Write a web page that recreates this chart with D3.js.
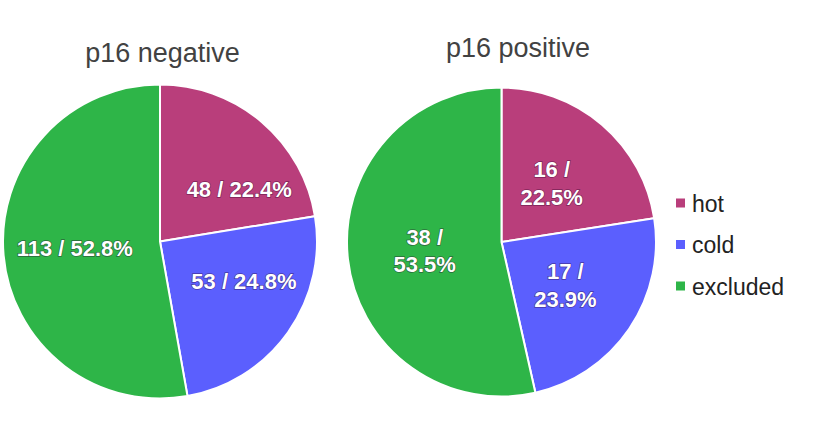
<!DOCTYPE html>
<html>
<head>
<meta charset="utf-8">
<script src="https://cdn.jsdelivr.net/npm/d3@7"></script>
<style>
  body { margin: 0; background: #fff; }
  text { font-family: "Liberation Sans", Arial, sans-serif; }
</style>
</head>
<body>
<div id="chart"></div>
<script>
// Donnees
const categories = ["hot", "cold", "excluded"];
const colors = ["#b93e7b", "#5b5ffe", "#2eb548"];
const negativeValues = [48, 53, 113];
const negativePct = ["22.4%", "24.8%", "52.8%"];
const positiveValues = [16, 17, 38];
const positivePct = ["22.5%", "23.9%", "53.5%"];
const titles = ["p16 negative", "p16 positive"];

const width = 829, height = 436;

const svg = d3.select("#chart")
    .append("svg")
    .attr("width", width)
    .attr("height", height);

svg.append("rect").attr("width", width).attr("height", height).attr("fill", "#fff");

const color = d3.scaleOrdinal().domain(categories).range(colors);

const pie = d3.pie().sort(null).value(d => d.value);

// un camembert par groupe
const charts = [
    {title: titles[0], values: negativeValues, pct: negativePct, cx: 160, cy: 241.5, r: 157, tx: 162.5, ty: 62, twoLines: false},
    {title: titles[1], values: positiveValues, pct: positivePct, cx: 501.5, cy: 242, r: 154.5, tx: 518, ty: 57, twoLines: true}
];

charts.forEach(function(c) {
    const data = categories.map((k, i) => ({key: k, value: c.values[i], pct: c.pct[i]}));
    const arcs = pie(data);
    const arc = d3.arc().innerRadius(0).outerRadius(c.r);
    const labelArc = d3.arc().innerRadius(0).outerRadius(c.r); // centroid = r/2

    svg.append("text")
        .attr("x", c.tx)
        .attr("y", c.ty)
        .attr("text-anchor", "middle")
        .attr("font-size", 27)
        .attr("fill", "#424242")
        .text(c.title);

    const g = svg.append("g").attr("transform", `translate(${c.cx},${c.cy})`);

    g.selectAll("path")
        .data(arcs)
        .join("path")
        .attr("d", arc)
        .attr("fill", d => color(d.data.key))
        .attr("stroke", "#fff")
        .attr("stroke-width", 2)
        .attr("stroke-linejoin", "round");

    const labels = g.selectAll("text.lbl")
        .data(arcs)
        .join("text")
        .attr("class", "lbl")
        .attr("text-anchor", "middle")
        .attr("font-size", 22)
        .attr("font-weight", "bold")
        .attr("fill", "#fff")
        .attr("stroke", "rgba(40,0,40,0.45)")
        .attr("stroke-width", 1.4)
        .attr("paint-order", "stroke");

    if (c.twoLines) {
        labels.each(function(d) {
            const [x, y] = labelArc.centroid(d);
            const t = d3.select(this);
            t.append("tspan").attr("x", x).attr("y", y - 6).text(d.data.value + " /");
            t.append("tspan").attr("x", x).attr("y", y + 21.5).text(d.data.pct);
        });
    } else {
        // label sur une ligne : pousse vers le bord, avec une marge
        const h = 16, m = 13;
        labels.each(function(d) {
            const a = (d.startAngle + d.endAngle) / 2;
            const t = d3.select(this).text(d.data.value + " / " + d.data.pct);
            const w = this.getComputedTextLength();
            const y = -0.44 * c.r * Math.cos(a);
            const far = Math.abs(y) + h / 2;
            const edge = Math.sqrt(c.r * c.r - far * far) - m;
            const x = Math.sign(Math.sin(a)) * (edge - w / 2);
            t.attr("x", x).attr("y", y + 8);
        });
    }
});

// Legende
const legend = svg.append("g").attr("transform", "translate(676,0)");
const ly = d3.scalePoint().domain(categories).range([203, 286]);

legend.selectAll("rect")
    .data(categories)
    .join("rect")
    .attr("x", 0)
    .attr("y", d => ly(d) - 4.5)
    .attr("width", 9)
    .attr("height", 9)
    .attr("fill", d => color(d));

legend.selectAll("text")
    .data(categories)
    .join("text")
    .attr("x", 16)
    .attr("y", d => ly(d) + 8.5)
    .attr("font-size", 23)
    .attr("fill", "#222")
    .text(d => d);
</script>
</body>
</html>
